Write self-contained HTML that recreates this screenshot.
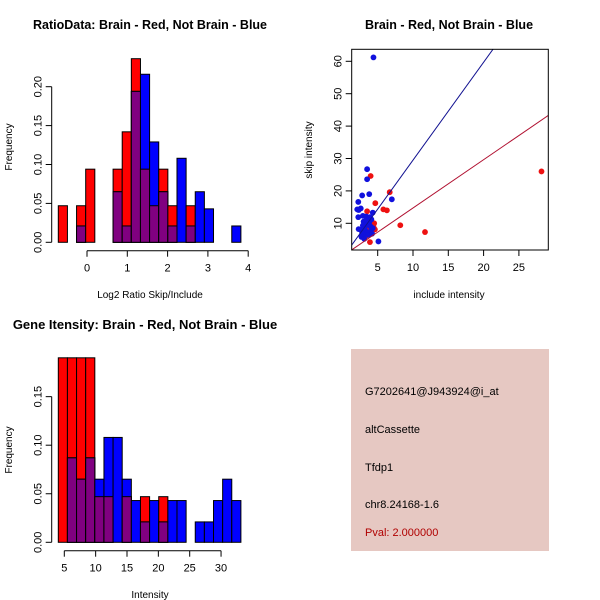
<!DOCTYPE html>
<html><head><meta charset="utf-8"><style>
html,body{margin:0;padding:0;background:#fff}
svg{display:block;font-family:"Liberation Sans",sans-serif}
</style></head><body>
<svg id="c" width="600" height="600" viewBox="0 0 600 600"></svg>
<script>
// Panel 1: ratio histogram (bins by index)
const ratioRed  = [0.047,0,0.047,0.094,0,0,0.094,0.142,0.236,0.094,0.047,0.094,0.047,0,0.047,0,0,0,0,0];
const ratioBlue = [0,0,0.021,0,0,0,0.065,0.021,0.194,0.216,0.129,0.065,0.021,0.108,0.021,0.065,0.043,0,0,0.021];
const ratioXTicks = [0,1,2,3,4];
const ratioYTicks = [0,0.05,0.10,0.15,0.20];
// Panel 2: scatter
const redInc  = [4.0,4.66,5.8,6.3,6.7,3.5,8.2,11.7,28.2,3.9,4.5,4.6,4.4,3.25,3.7];
const redSkip = [24.6,16.2,14.3,14.0,19.6,13.7,9.4,7.3,26.0,4.2,10.0,8.1,9.0,5.9,8.0];
const blueInc  = [4.4,3.5,3.5,3.8,2.8,7.0,2.25,2.6,2.3,2.1,4.3,2.25,2.9,3.4,3.9,5.1,3.0,3.3,3.5,3.8,4.0,3.2,2.6,2.3,2.8,3.0,2.7,3.1,3.6,4.0,4.3,3.4,4.1,2.9,3.7,4.2];
const blueSkip = [61.2,26.7,23.6,19.0,18.6,17.4,16.6,14.6,14.1,14.3,13.3,11.9,12.3,12.1,11.9,4.4,10.5,10,9.5,10.3,9,8,8,8.2,7,6.5,5.8,5.2,7.2,7.5,8.5,11,11.2,9.3,6.4,6.8];
const scatXTicks = [5,10,15,20,25];
const scatYTicks = [10,20,30,40,50,60];
const blueFit = [3.02,-0.7]; // slope, intercept
const redFit = [1.49,-0.17];
// Panel 3: intensity histogram
const intRed  = [0.19,0.19,0.19,0.19,0.047,0.047,0,0.047,0,0.047,0,0.047,0,0,0,0,0,0,0,0];
const intBlue = [0,0.087,0.065,0.087,0.065,0.108,0.108,0.065,0.043,0.021,0.043,0.021,0.043,0.043,0,0.021,0.021,0.043,0.065,0.043];
const intXTicks = [5,10,15,20,25,30];
const intYTicks = [0,0.05,0.10,0.15];
const infoLines = ["G7202641@J943924@i_at","altCassette","Tfdp1","chr8.24168-1.6"];

const svg=document.getElementById('c');
const NS='http://www.w3.org/2000/svg';
function el(t,a,txt){const e=document.createElementNS(NS,t);for(const k in a)e.setAttribute(k,a[k]);if(txt!==undefined)e.textContent=txt;svg.appendChild(e);return e;}
function fmt2(v){return v.toFixed(2);}

function hist(red,blue,y0,scale,x0,bw,yTicks,yAxisX,xTicks,xMap,xAxisY,prefix,yfmt){
  for(let i=0;i<red.length;i++){
    const x=x0+i*bw, r=red[i], b=blue[i];
    if(r>0){const e=el('rect',{x:x,y:y0-r*scale,width:bw,height:r*scale,fill:'#ff0000',stroke:'#000','stroke-width':1});
      }
    if(b>0){const e=el('rect',{x:x,y:y0-b*scale,width:bw,height:b*scale,fill:'#0000ff',stroke:'#000','stroke-width':1});
      }
    const m=Math.min(r,b);
    if(m>0){const e=el('rect',{x:x,y:y0-m*scale,width:bw,height:m*scale,fill:'#800080',stroke:'#000','stroke-width':1});
      }
  }
  const yt=yTicks[yTicks.length-1];
  el('line',{x1:yAxisX,x2:yAxisX,y1:y0,y2:y0-yt*scale,stroke:'#000'});
  yTicks.forEach(v=>{const y=y0-v*scale;el('line',{x1:yAxisX-6,x2:yAxisX,y1:y,y2:y,stroke:'#000'});
    const t=el('text',{x:0,y:0,'font-size':11,'text-anchor':'middle',transform:`translate(${yAxisX-10},${y}) rotate(-90)`},yfmt(v));
    });
  el('line',{x1:xMap(xTicks[0]),x2:xMap(xTicks[xTicks.length-1]),y1:xAxisY,y2:xAxisY,stroke:'#000'});
  xTicks.forEach(v=>{const x=xMap(v);el('line',{x1:x,x2:x,y1:xAxisY,y2:xAxisY+6,stroke:'#000'});
    const t=el('text',{x:x,y:xAxisY+21,'font-size':11,'text-anchor':'middle'},String(v));
    });
}
// Panel 1
hist(ratioRed,ratioBlue,242.3,778,58.3,9.13,ratioYTicks,51.7,ratioXTicks,v=>87+v*40.3,250.7,'ratio',fmt2);
let t;
t=el('text',{x:150,y:29,'font-size':12.5,'font-weight':'bold','text-anchor':'middle'},'RatioData: Brain - Red, Not Brain - Blue');
t=el('text',{x:150,y:298,'font-size':10,'text-anchor':'middle'},'Log2 Ratio Skip/Include');
t=el('text',{x:0,y:0,'font-size':10,'text-anchor':'middle',transform:'translate(12,147) rotate(-90)'},'Frequency');
// Panel 3
hist(intRed,intBlue,542.3,971,58.3,9.13,intYTicks,51.7,intXTicks,v=>64.3+(v-5)*6.27,550.7,'intensity',fmt2);
t=el('text',{x:145,y:329,'font-size':13,'font-weight':'bold','text-anchor':'middle'},'Gene Itensity: Brain - Red, Not Brain - Blue');
t=el('text',{x:150,y:598,'font-size':10,'text-anchor':'middle'},'Intensity');
t=el('text',{x:0,y:0,'font-size':10,'text-anchor':'middle',transform:'translate(12,450) rotate(-90)'},'Frequency');
// Panel 2 scatter
const L=351.7,R=548.3,T=49.3,B=250;
const sx=v=>377.7+(v-5)*7.06, sy=v=>223.3-(v-10)*3.24;
const xmin=5+(L-377.7)/7.06, xmax=5+(R-377.7)/7.06;
const cp=el('clipPath',{id:'clip'});const cr=document.createElementNS(NS,'rect');
cr.setAttribute('x',L);cr.setAttribute('y',T);cr.setAttribute('width',R-L);cr.setAttribute('height',B-T);cp.appendChild(cr);
const g=el('g',{'clip-path':'url(#clip)'});

function pt(x,y,c,n){const e=document.createElementNS(NS,'circle');e.setAttribute('cx',sx(x));e.setAttribute('cy',sy(y));e.setAttribute('r',2.9);e.setAttribute('fill',c);
  g.appendChild(e);}
redInc.forEach((x,i)=>pt(x,redSkip[i],'#ee1111','red-point'));
blueInc.forEach((x,i)=>pt(x,blueSkip[i],'#1111dd','blue-point'));
function fit(f,c,n){const e=document.createElementNS(NS,'line');e.setAttribute('x1',sx(xmin));e.setAttribute('y1',sy(f[0]*xmin+f[1]));
  e.setAttribute('x2',sx(xmax));e.setAttribute('y2',sy(f[0]*xmax+f[1]));e.setAttribute('stroke',c);e.setAttribute('stroke-width',1);
  g.appendChild(e);}
fit(blueFit,'#101090','blue-fit-line');fit(redFit,'#b01030','red-fit-line');
const box=el('rect',{x:L,y:T,width:R-L,height:B-T,fill:'none',stroke:'#000'});
scatXTicks.forEach(v=>{const x=sx(v);el('line',{x1:x,x2:x,y1:B,y2:B+6,stroke:'#000'});
  const e=el('text',{x:x,y:B+21,'font-size':11,'text-anchor':'middle'},String(v));});
scatYTicks.forEach(v=>{const y=sy(v);el('line',{x1:L-6,x2:L,y1:y,y2:y,stroke:'#000'});
  const e=el('text',{x:0,y:0,'font-size':11,'text-anchor':'middle',transform:`translate(${L-10},${y}) rotate(-90)`},String(v));});
t=el('text',{x:449,y:29,'font-size':12.5,'font-weight':'bold','text-anchor':'middle'},'Brain - Red, Not Brain - Blue');
t=el('text',{x:449,y:298,'font-size':10,'text-anchor':'middle'},'include intensity');
t=el('text',{x:0,y:0,'font-size':10,'text-anchor':'middle',transform:'translate(312,150) rotate(-90)'},'skip intensity');
// Info panel
const ip=el('rect',{x:351,y:349,width:198,height:202,fill:'#e6c8c2'});
const ys=[395,433,471,508];
infoLines.forEach((s,i)=>{const e=el('text',{x:365,y:ys[i],'font-size':11},s);});
t=el('text',{x:365,y:536,'font-size':11,fill:'#b00000'},'Pval: 2.000000');
</script>
</body></html>
